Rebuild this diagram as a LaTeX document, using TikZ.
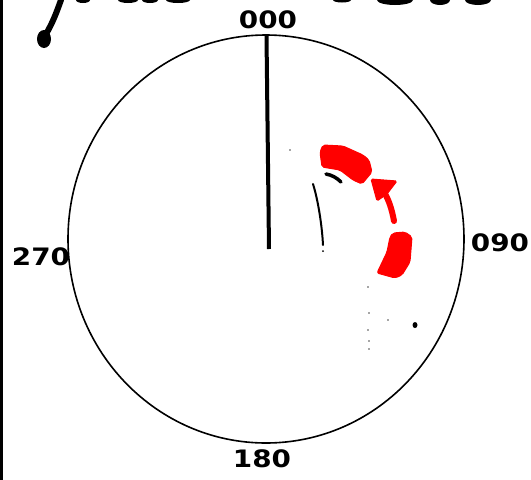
\documentclass[tikz,border=0pt]{standalone}
\usepackage{fontspec}
\usetikzlibrary{shapes.geometric}
\setmainfont{DejaVu Sans}
\begin{document}
\begin{tikzpicture}[x=1pt,y=-1pt,
  lbl/.style={font=\bfseries\fontsize{24}{24}\selectfont, inner sep=0pt, xscale=1.16},
  redblk/.style={fill=red, draw=red, line width=1pt, rounded corners=2pt}]
\useasboundingbox (0,0) rectangle (531,480);
\fill[white] (0,0) rectangle (531,480);
% left border line
\fill[black] (0,0) rectangle (3,480);
% cut-off handwriting at top
\draw[line width=6pt, line cap=round] (61,0) .. controls (56,14) and (52,24) .. (46,34);
\fill[black] (44,39) ellipse (7pt and 9pt);
\fill[black] (83,0) ellipse (7pt and 3pt);
\fill[black] (128,0) ellipse (10pt and 3pt);
\fill[black] (150,0) ellipse (8pt and 3pt);
\fill[black] (178,0) ellipse (12pt and 3pt);
\fill[black] (342,0) ellipse (9pt and 2.5pt);
\fill[black] (395,0) ellipse (18pt and 5pt);
\fill[black] (440,0) ellipse (10pt and 5pt);
\fill[black] (478,0) ellipse (13pt and 5pt);
% compass circle
\node[draw, line width=1.6pt, ellipse, minimum width=396pt, minimum height=408pt, inner sep=0pt] (dial) at (266,239) {};
% heading line
\coordinate (hdtop) at (266.5,36);
\coordinate (hdbot) at (269,249);
\draw[line width=4pt] (hdtop) -- (hdbot);
% labels
\node[lbl] (n000) at (268,20) {000};
\node[lbl] (n270) at (41,257) {270};
\node[lbl] (n090) at (500,243) {090};
\node[lbl] (n180) at (262,459) {180};
% red blocks
\fill[redblk] (323,145) -- (343,146) -- (363,155) -- (369,160) -- (372,172) -- (362,184) -- (353,180) -- (340,170) -- (322,167) -- (320,152) -- cycle;
\fill[redblk] (393,233) -- (405,232) -- (412,237) -- (410,262) -- (402,275) -- (395,278) -- (377,273) -- (387,252) -- (390,237) -- cycle;
% red arrow
\draw[red, line width=6pt, line cap=round] (394,221) .. controls (392,210) and (389,200) .. (384,192);
\fill[red, draw=red, line width=1pt, rounded corners=1.5pt] (371,179) -- (397,181) -- (387,194) -- (377,201) -- cycle;
% black strokes
\draw[line width=3.5pt, line cap=round] (326,174) .. controls (332,175) and (337,178) .. (341,182);
\draw[line width=2pt, line cap=round] (313,184) .. controls (318,200) and (322,225) .. (323,245);
\fill[black] (323,251) circle (1pt);
\fill[black] (415,325) ellipse (2.5pt and 3pt);
% specks
\foreach \p in {(368,287),(369,313),(368,330),(369,341),(369,349),(388,320),(290,150)}
  \fill[black!70] \p circle (0.8pt);
\end{tikzpicture}
\end{document}
